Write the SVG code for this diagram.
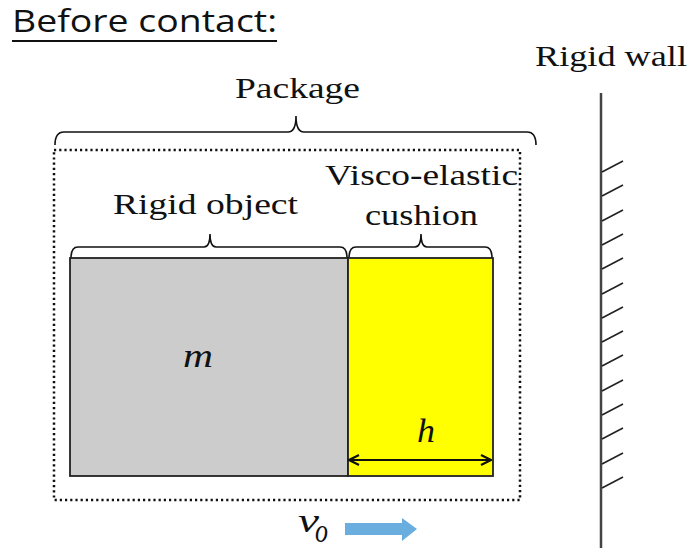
<svg xmlns="http://www.w3.org/2000/svg" width="694" height="550" viewBox="0 0 694 550">
<style>
.serif{font-family:"Liberation Serif","Times New Roman","DejaVu Serif","Noto Serif",serif;font-size:30px;fill:#111}
.ital{font-family:"Liberation Serif","Times New Roman","DejaVu Serif","Noto Serif",serif;font-style:italic;font-size:34px;fill:#111}
.sans{font-family:"Open Sans","Liberation Sans",Arial,sans-serif;font-size:31px;fill:#111}
.brace{fill:none;stroke:#111;stroke-width:1.6}
</style>
<defs>
<marker id="ah" viewBox="0 0 12 12" refX="11" refY="6" markerWidth="12" markerHeight="12" markerUnits="userSpaceOnUse" orient="auto-start-reverse">
<path d="M1,1 L11,6 L1,11" fill="none" stroke="#111" stroke-width="2.2"/>
</marker>
</defs>
<rect width="694" height="550" fill="#fff"/>
<g id="title">
<text class="sans" x="12" y="32" textLength="265" lengthAdjust="spacingAndGlyphs">Before contact:</text>
<line x1="12" y1="41" x2="277" y2="41" stroke="#111" stroke-width="2"/>
</g>
<g id="package">
<text class="serif" x="235" y="98" textLength="125" lengthAdjust="spacingAndGlyphs">Package</text>
<path class="brace" d="M55,145 Q55,132 64,132 L288,132 Q296,132 296,116 Q296,132 304,132 L527,132 Q536,132 536,145"/>
<rect x="54" y="150" width="466" height="350" fill="none" stroke="#111" stroke-width="2.5" stroke-dasharray="2.2,3"/>
</g>
<g id="rigid-object">
<text class="serif" x="113" y="214" textLength="185" lengthAdjust="spacingAndGlyphs">Rigid object</text>
<path class="brace" d="M71,258 Q71,247 78,247 L204,247 Q210,247 210,234 Q210,247 216,247 L340,247 Q347,247 347,258"/>
<rect x="70" y="258" width="278" height="218" fill="#cccccc" stroke="#222" stroke-width="1.8"/>
<text class="ital" x="183" y="367" textLength="30" lengthAdjust="spacingAndGlyphs">m</text>
</g>
<g id="cushion">
<text class="serif" x="325" y="185" textLength="193" lengthAdjust="spacingAndGlyphs">Visco-elastic</text>
<text class="serif" x="365" y="225" textLength="113" lengthAdjust="spacingAndGlyphs">cushion</text>
<path class="brace" d="M349,258 Q349,247 356,247 L415,247 Q421,247 421,234 Q421,247 427,247 L485,247 Q492,247 492,258"/>
<rect x="348" y="258" width="145" height="218" fill="#ffff00" stroke="#222" stroke-width="1.8"/>
<text class="ital" x="417" y="442" textLength="18" lengthAdjust="spacingAndGlyphs">h</text>
</g>
<g id="connectors">
<line x1="349" y1="460" x2="491" y2="460" stroke="#111" stroke-width="1.8" marker-start="url(#ah)" marker-end="url(#ah)"/>
<path d="M345,523 L402,523 L402,518 L417,529 L402,541 L402,535 L345,535 Z" fill="#6aaee0"/>
</g>
<g id="velocity">
<text class="ital" x="298" y="532" textLength="21" lengthAdjust="spacingAndGlyphs">v</text>
<text class="ital" x="315" y="542" font-size="22" textLength="13" lengthAdjust="spacingAndGlyphs">o</text>
</g>
<g id="wall">
<text class="serif" x="535" y="66" textLength="152" lengthAdjust="spacingAndGlyphs">Rigid wall</text>
<line x1="601" y1="93" x2="601" y2="548" stroke="#444" stroke-width="2.5"/>
<g stroke="#222" stroke-width="1.6">
<line x1="602" y1="172" x2="623" y2="161"/>
<line x1="602" y1="196" x2="623" y2="185"/>
<line x1="602" y1="221" x2="623" y2="210"/>
<line x1="602" y1="245" x2="623" y2="234"/>
<line x1="602" y1="269" x2="623" y2="258"/>
<line x1="602" y1="294" x2="623" y2="283"/>
<line x1="602" y1="318" x2="623" y2="307"/>
<line x1="602" y1="342" x2="623" y2="331"/>
<line x1="602" y1="366" x2="623" y2="355"/>
<line x1="602" y1="391" x2="623" y2="380"/>
<line x1="602" y1="415" x2="623" y2="404"/>
<line x1="602" y1="439" x2="623" y2="428"/>
<line x1="602" y1="464" x2="623" y2="453"/>
<line x1="602" y1="488" x2="623" y2="477"/>
</g>
</g>
</svg>
